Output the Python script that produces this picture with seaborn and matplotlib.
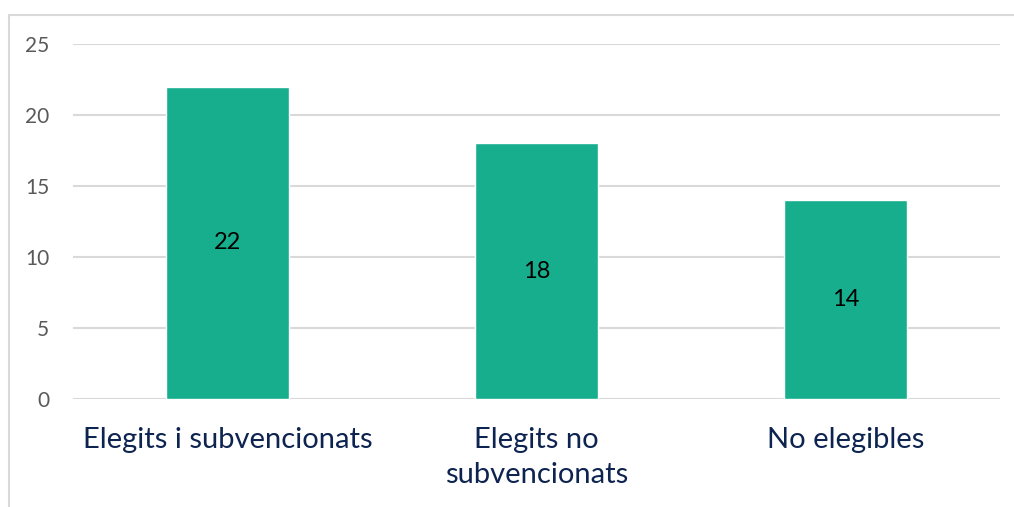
import pandas as pd
import matplotlib
matplotlib.use("Agg")
import matplotlib.pyplot as plt
import seaborn as sns
from matplotlib.patches import Rectangle

# Datos
categorias = ["Elegits i subvencionats", "Elegits no\nsubvencionats", "No elegibles"]
valores = [22, 18, 14]
ticks_y = [0, 5, 10, 15, 20, 25]

df = pd.DataFrame({"categoria": categorias, "valor": valores})

sns.set_style("white")
plt.rcParams["font.family"] = ["Lato", "DejaVu Sans"]

fig = plt.figure(figsize=(10.14, 5.07), dpi=100)
ax = fig.add_axes([73 / 1014, 1 - 399 / 507, 927 / 1014, 355 / 507])

sns.barplot(data=df, x="categoria", y="valor", color="#17AE8D", width=0.4,
            saturation=1, ax=ax, zorder=3)

# Etiquetas de valor al centro de cada barra
for i, v in enumerate(valores):
    ax.text(i, v / 2, str(v), ha="center", va="center", fontsize=17, color="black", zorder=4)

ax.set_ylim(0, 25)
ax.set_xlim(-0.5, 2.5)
ax.set_yticks(ticks_y)
ax.set_yticklabels([str(t) for t in ticks_y], fontsize=15, color="#595959")
ax.tick_params(axis="y", length=0, pad=17)
ax.tick_params(axis="x", length=0, pad=20, labelsize=21, labelcolor="#0D2350")
for lbl in ax.get_xticklabels():
    lbl.set_linespacing(1.45)
ax.grid(axis="y", color="#D9D9D9", linewidth=1.5, zorder=0)
ax.set_xlabel("")
ax.set_ylabel("")
for s in ax.spines.values():
    s.set_visible(False)

# Marco del gráfico
fig.patches.append(Rectangle((9 / 1014, -0.1), 1.2, 1 - 15 / 507 + 0.1, transform=fig.transFigure,
                             fill=False, edgecolor="#D9D9D9", linewidth=1.5))

fig.savefig("out.png", dpi=100)
